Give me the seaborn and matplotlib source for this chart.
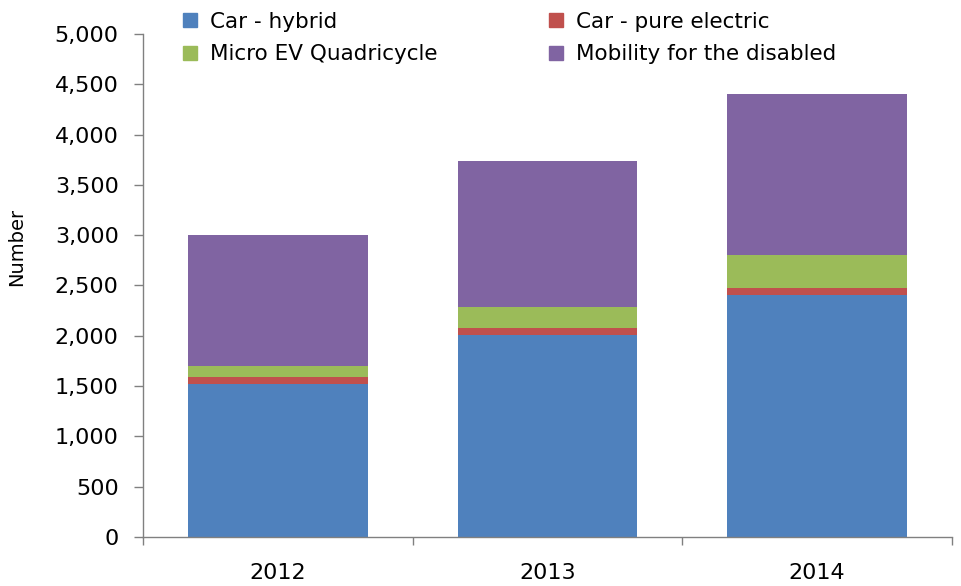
import matplotlib
matplotlib.use("Agg")
import matplotlib.pyplot as plt
import matplotlib.patches as mpatches
from matplotlib.ticker import FuncFormatter, FixedLocator
import seaborn as sns
import numpy as np
import pandas as pd

years = ["2012", "2013", "2014"]
car_hybrid = [1520, 2005, 2405]
car_pure_electric = [70, 75, 70]
micro_ev_quadricycle = [110, 210, 330]
mobility_disabled = [1300, 1450, 1600]

series_names = ["Car - hybrid", "Car - pure electric", "Micro EV Quadricycle", "Mobility for the disabled"]
series_values = [car_hybrid, car_pure_electric, micro_ev_quadricycle, mobility_disabled]
colors = ["#4F81BD", "#C0504D", "#9BBB59", "#8064A2"]

sns.set_theme(style="white")
plt.rcParams['font.family'] = ['DejaVu Sans']

fig = plt.figure(figsize=(9.62, 5.86), dpi=100)
ax = fig.add_axes([0.1486, 0.0836, 0.841, 0.8584])

cum = np.cumsum(np.array(series_values), axis=0)
# draw from top segment down so lower segments overlay
for i in range(len(series_names) - 1, -1, -1):
    df = pd.DataFrame({"year": years, "value": cum[i]})
    sns.barplot(data=df, x="year", y="value", color=colors[i], width=0.667,
                saturation=1, ax=ax, edgecolor="none", linewidth=0)

ax.set_xlim(-0.5, 2.5)
ax.set_ylim(0, 5000)
ax.set_yticks(np.arange(0, 5001, 500))
ax.yaxis.set_major_formatter(FuncFormatter(lambda v, p: f"{int(v):,}"))
ax.set_xlabel("")
ax.set_ylabel("Number", fontsize=14, color="black")
ax.yaxis.set_label_coords(-0.145, 0.577)

for s in ["top", "right"]:
    ax.spines[s].set_visible(False)
for s in ["left", "bottom"]:
    ax.spines[s].set_color("#808080")
    ax.spines[s].set_linewidth(1)

ax.tick_params(axis="y", which="major", left=True, length=6.5, width=1, color="#808080",
               labelsize=16, pad=11, labelcolor="black")
ax.tick_params(axis="x", which="major", bottom=False, labelsize=16, pad=13, labelcolor="black")
ax.xaxis.set_minor_locator(FixedLocator([-0.5, 0.5, 1.5, 2.5]))
ax.tick_params(axis="x", which="minor", bottom=True, length=6, width=1, color="#808080", direction="out")

handles = [mpatches.Patch(color=colors[i], label=series_names[i]) for i in range(4)]
order = [0, 2, 1, 3]
leg = fig.legend([handles[i] for i in order], [series_names[i] for i in order],
                 loc="upper left", bbox_to_anchor=(0.181, 0.995), ncol=2, frameon=False,
                 fontsize=15.5, handlelength=0.68, handleheight=0.68, handletextpad=0.6,
                 columnspacing=5.15, labelspacing=0.6, borderaxespad=0)
for t in leg.get_texts():
    t.set_color("black")

fig.savefig("out.png", dpi=100)
